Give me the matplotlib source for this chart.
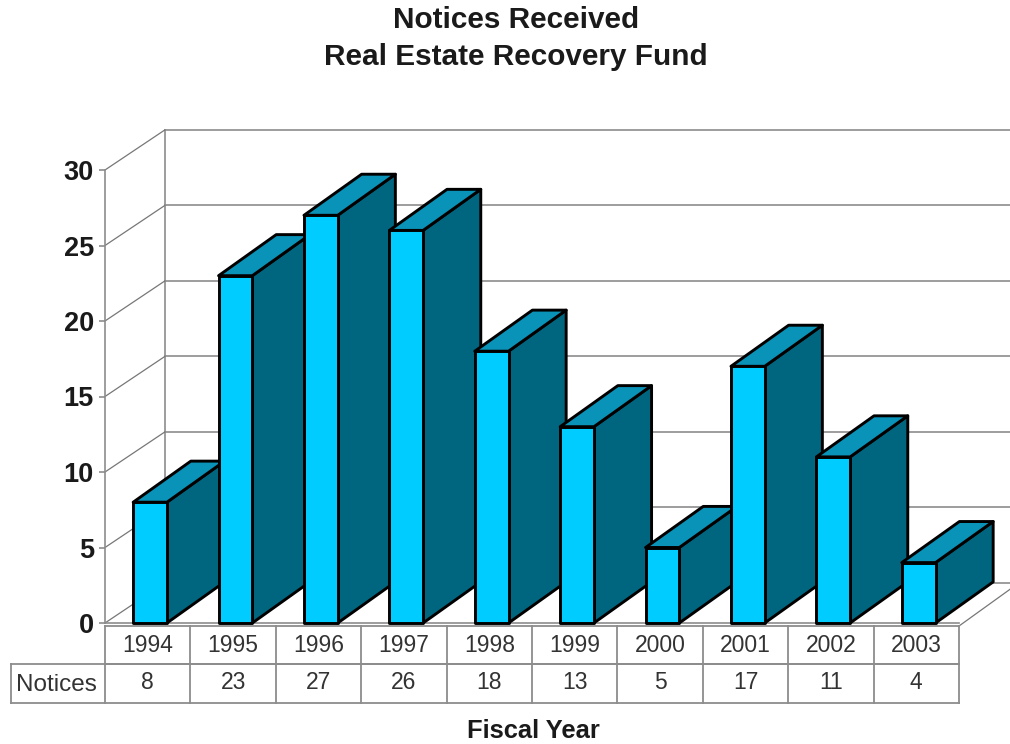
import matplotlib
matplotlib.use("Agg")
import matplotlib.pyplot as plt
from matplotlib.patches import Polygon

plt.rcParams['font.family'] = ['Liberation Sans', 'DejaVu Sans']

years = ['1994', '1995', '1996', '1997', '1998', '1999', '2000', '2001', '2002', '2003']
notices = [8, 23, 27, 26, 18, 13, 5, 17, 11, 4]
y_ticks = [0, 5, 10, 15, 20, 25, 30]

FRONT = '#00ccff'
SIDE = '#006680'
TOP = '#0a93b8'
GRID = '#8c8c8c'
TEXT = '#333333'

# depth of the box, in data units
WALL_DX = 0.70
WALL_DY = 2.65
BAR_DX = 0.675
BAR_DY = 2.72
BAR_W = 0.395
BAR_X0 = 0.33

# table rows, in data units below the floor
ROW_TOP = -0.2
ROW_MID = -2.7
ROW_BOT = -5.3
LABEL_X = -1.1

fig = plt.figure(figsize=(10.1, 7.44), dpi=100)
ax = fig.add_axes([105 / 1010, 121 / 744, 854 / 1010, 453 / 744])
ax.set_xlim(0, 10)
ax.set_ylim(0, 30)
ax.patch.set_visible(False)

for name in ['top', 'right', 'bottom']:
    ax.spines[name].set_visible(False)
ax.spines['left'].set_color(GRID)
ax.spines['left'].set_linewidth(1.2)

ax.set_xticks([])
ax.set_yticks(y_ticks)
ax.tick_params(axis='y', length=4, width=1.2, color=GRID, pad=4,
               labelsize=19.5, labelcolor='#1a1a1a')
for lab in ax.get_yticklabels():
    lab.set_fontweight('bold')


def line(xs, ys, color=GRID, lw=1.2, ls='-', z=1):
    ax.plot(xs, ys, color=color, lw=lw, ls=ls, zorder=z, clip_on=False)


# back wall and side wall
line([WALL_DX, WALL_DX], [WALL_DY, 30 + WALL_DY])
for t in y_ticks:
    line([WALL_DX, 10.6], [t + WALL_DY, t + WALL_DY])
    line([0, WALL_DX], [t, t + WALL_DY], color='#777777', lw=0.9)

# floor
line([0, 10], [0, 0])
line([10, 10 + WALL_DX], [ROW_TOP, WALL_DY], color='#777777', lw=0.9)

# bars, left to right so each one overlaps its neighbour
for i, v in enumerate(notices):
    x0 = i + BAR_X0
    x1 = x0 + BAR_W
    side = [(x1, 0), (x1 + BAR_DX, BAR_DY), (x1 + BAR_DX, v + BAR_DY), (x1, v)]
    top = [(x0, v), (x1, v), (x1 + BAR_DX, v + BAR_DY), (x0 + BAR_DX, v + BAR_DY)]
    front = [(x0, 0), (x1, 0), (x1, v), (x0, v)]
    for pts, col in [(side, SIDE), (top, TOP), (front, FRONT)]:
        ax.add_patch(Polygon(pts, closed=True, facecolor=col, edgecolor='black',
                             linewidth=2.1, joinstyle='round', zorder=3 + i,
                             clip_on=False))

# data table under the chart
for r in [ROW_TOP, ROW_MID]:
    line([0, 10], [r, r], lw=1.3)
line([LABEL_X, 10], [ROW_MID, ROW_MID], lw=1.3)
line([LABEL_X, 10], [ROW_BOT, ROW_BOT], lw=1.3)
line([LABEL_X, LABEL_X], [ROW_MID, ROW_BOT], lw=1.3)
for k in range(11):
    line([k, k], [ROW_TOP, ROW_BOT], lw=1.3)

for i, (yr, v) in enumerate(zip(years, notices)):
    ax.text(i + 0.5, (ROW_TOP + ROW_MID) / 2 - 0.05, yr, ha='center', va='center',
            fontsize=16.5, color=TEXT)
    ax.text(i + 0.5, (ROW_MID + ROW_BOT) / 2 + 0.05, str(v), ha='center', va='center',
            fontsize=16.5, color=TEXT)
ax.text(LABEL_X / 2 - 0.02, (ROW_MID + ROW_BOT) / 2 - 0.1, 'Notices', ha='center', va='center',
        fontsize=17.5, color=TEXT)

fig.text(533 / 1010, 1 - 731 / 744, 'Fiscal Year', ha='center', va='center',
         fontsize=18.4, fontweight='bold', color='#1a1a1a')
fig.text(516 / 1010, 1 - 20 / 744, 'Notices Received', ha='center', va='center',
         fontsize=21.4, fontweight='bold', color='#1a1a1a')
fig.text(516 / 1010, 1 - 57 / 744, 'Real Estate Recovery Fund', ha='center', va='center',
         fontsize=21.4, fontweight='bold', color='#1a1a1a')

fig.savefig('out.png', dpi=100, facecolor='white')
